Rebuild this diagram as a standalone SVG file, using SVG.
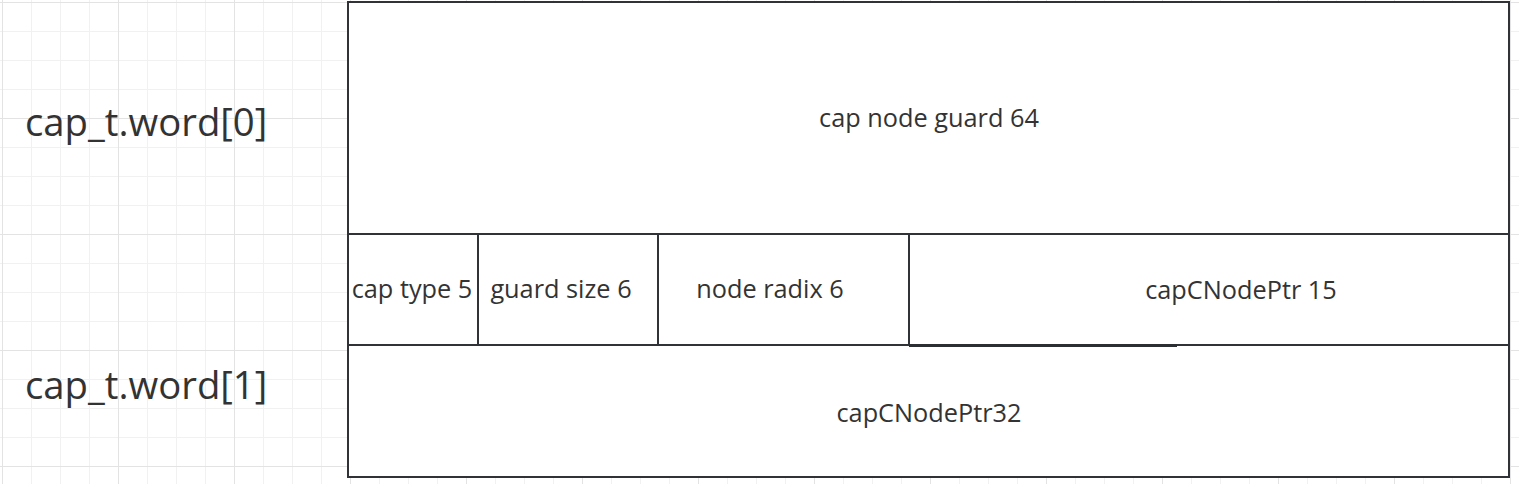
<svg xmlns="http://www.w3.org/2000/svg" width="1519" height="484" viewBox="0 0 1519 484">
  <style>
    .cell { fill: #ffffff; stroke: #2f3338; stroke-width: 2; }
    .lbl { font-family: "Open Sans", "Noto Sans", "Liberation Sans", sans-serif; font-size: 25.3px; fill: #333333; text-anchor: middle; }
    .big { font-family: "Open Sans", "Noto Sans", "Liberation Sans", sans-serif; font-size: 38.3px; fill: #333333; }
  </style>
  <defs>
    <pattern id="grid" x="2" y="2" width="116" height="116" patternUnits="userSpaceOnUse">
      <rect x="29" y="0" width="1" height="116" fill="#f1f1f1"/>
      <rect x="58" y="0" width="1" height="116" fill="#f1f1f1"/>
      <rect x="87" y="0" width="1" height="116" fill="#f1f1f1"/>
      <rect x="0" y="29" width="116" height="1" fill="#f1f1f1"/>
      <rect x="0" y="58" width="116" height="1" fill="#f1f1f1"/>
      <rect x="0" y="87" width="116" height="1" fill="#f1f1f1"/>
      <rect x="0" y="0" width="1" height="116" fill="#e3e3e3"/>
      <rect x="0" y="0" width="116" height="1" fill="#e3e3e3"/>
    </pattern>
  </defs>
  <rect x="0" y="0" width="1519" height="484" fill="#ffffff"/>
  <rect x="0" y="0" width="1519" height="484" fill="url(#grid)"/>

  <g id="word0-label">
    <text class="big" x="25" y="136">cap_t.word[0]</text>
  </g>
  <g id="word1-label">
    <text class="big" x="25" y="399">cap_t.word[1]</text>
  </g>

  <g id="cap-node-guard">
    <rect class="cell" x="348" y="2" width="1161" height="232"/>
    <text class="lbl" x="929" y="127">cap node guard 64</text>
  </g>
  <g id="cap-type">
    <rect class="cell" x="348" y="234" width="130" height="111"/>
    <text class="lbl" x="412" y="298">cap type 5</text>
  </g>
  <g id="guard-size">
    <rect class="cell" x="478" y="234" width="180" height="111"/>
    <text class="lbl" x="561" y="298">guard size 6</text>
  </g>
  <g id="node-radix">
    <rect class="cell" x="658" y="234" width="251" height="111"/>
    <text class="lbl" x="770" y="298">node radix 6</text>
  </g>
  <g id="cap-cnode-ptr-15">
    <rect class="cell" x="909" y="234" width="600" height="111"/>
    <text class="lbl" x="1241" y="299">capCNodePtr 15</text>
  </g>
  <g id="cap-cnode-ptr-32">
    <rect class="cell" x="348" y="345" width="1161" height="132"/>
    <text class="lbl" x="929" y="422">capCNodePtr32</text>
  </g>
  <g id="connectors">
    <line x1="909" y1="345.5" x2="1177" y2="345.5" stroke="#2b2e33" stroke-width="3"/>
  </g>
</svg>
